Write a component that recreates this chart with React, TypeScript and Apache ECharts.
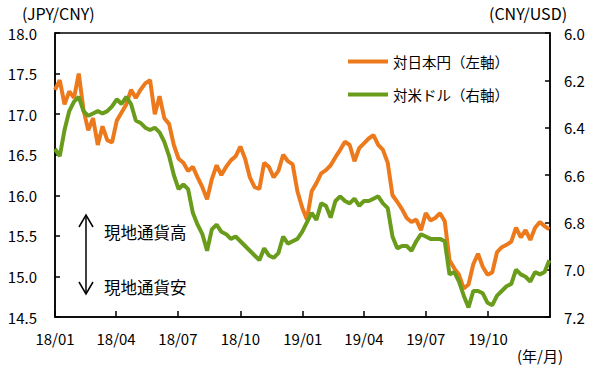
import React, { useEffect, useRef } from "react";
import * as echarts from "echarts";

// Weekly observations, 2018-01-01 .. 2019-12-30
const jpyPerCny: number[] = [
  17.30, 17.42, 17.12, 17.28, 17.20, 17.50, 17.05, 16.80, 16.95, 16.62,
  16.85, 16.68, 16.65, 16.92, 17.02, 17.12, 17.30, 17.20, 17.30, 17.38,
  17.42, 17.00, 17.22, 16.95, 16.88, 16.62, 16.45, 16.40, 16.30, 16.35,
  16.22, 16.10, 15.95, 16.20, 16.37, 16.25, 16.35, 16.43, 16.48, 16.60,
  16.45, 16.22, 16.10, 16.08, 16.40, 16.35, 16.22, 16.30, 16.50, 16.42,
  16.38, 16.05, 15.85, 15.70, 16.05, 16.15, 16.27, 16.31, 16.37, 16.47,
  16.56, 16.66, 16.62, 16.42, 16.58, 16.64, 16.70, 16.74, 16.62, 16.56,
  16.40, 16.00, 15.92, 15.83, 15.72, 15.67, 15.70, 15.57, 15.78, 15.69,
  15.72, 15.78, 15.68, 15.20, 15.10, 15.02, 14.85, 14.90, 15.15, 15.28,
  15.12, 15.02, 15.05, 15.30, 15.36, 15.39, 15.43, 15.60, 15.48, 15.57,
  15.45, 15.60, 15.67, 15.62, 15.58,
];

const cnyPerUsd: number[] = [
  6.49, 6.52, 6.41, 6.33, 6.29, 6.27, 6.33, 6.35, 6.34, 6.33,
  6.34, 6.33, 6.31, 6.28, 6.30, 6.27, 6.30, 6.37, 6.38, 6.40,
  6.41, 6.40, 6.42, 6.46, 6.52, 6.60, 6.66, 6.64, 6.66, 6.76,
  6.81, 6.85, 6.92, 6.83, 6.81, 6.84, 6.85, 6.87, 6.86, 6.88,
  6.90, 6.92, 6.94, 6.96, 6.91, 6.94, 6.95, 6.93, 6.86, 6.89,
  6.88, 6.87, 6.84, 6.80, 6.76, 6.79, 6.72, 6.73, 6.78, 6.71,
  6.69, 6.71, 6.72, 6.70, 6.73, 6.71, 6.71, 6.70, 6.69, 6.72,
  6.74, 6.86, 6.91, 6.90, 6.90, 6.92, 6.88, 6.85, 6.86, 6.87,
  6.87, 6.87, 6.88, 7.02, 7.01, 7.05, 7.11, 7.16, 7.09, 7.09,
  7.10, 7.14, 7.15, 7.11, 7.09, 7.07, 7.06, 7.00, 7.02, 7.03,
  7.05, 7.01, 7.02, 7.01, 6.96,
];

const seriesNames = ["対日本円（左軸）", "対米ドル（右軸）"];
const quarterStarts: [number, number][] = [
  [2018, 0], [2018, 3], [2018, 6], [2018, 9],
  [2019, 0], [2019, 3], [2019, 6], [2019, 9],
];
const leftTitle = "(JPY/CNY)";
const rightTitle = "(CNY/USD)";
const xUnit = "(年/月)";
const upLabel = "現地通貨高";
const downLabel = "現地通貨安";

const FONT = "'Noto Sans CJK JP', 'Noto Sans', sans-serif";
const ORANGE = "#EC7A1C";
const GREEN = "#6A9C1C";

export default function App() {
  const ref = useRef<HTMLDivElement>(null);

  useEffect(() => {
    document.body.style.margin = "0";
    if (!ref.current) return;
    const chart = echarts.init(ref.current, undefined, { renderer: "svg" });

    const weekTimes = jpyPerCny.map((_, i) => new Date(2018, 0, 1 + 7 * i).getTime());
    const tickTimes = quarterStarts.map(([y, m]) => new Date(y, m, 1).getTime());
    const pad = (n: number) => (n < 10 ? "0" + n : "" + n);

    const txt = (text: string, x: number, y: number, size: number) => ({
      type: "text", x, y,
      style: { text, x: 0, y: 0, fontSize: size, fill: "#000", fontFamily: FONT, align: "left", verticalAlign: "middle" },
    });

    chart.setOption({
      animation: false,
      textStyle: { fontFamily: FONT, color: "#000" },
      grid: {
        left: 55, right: 45, top: 33, bottom: 51,
        show: true, borderColor: "#000", borderWidth: 1.5,
      },
      legend: {
        orient: "vertical",
        left: 343, top: 47,
        icon: "rect",
        itemWidth: 40, itemHeight: 4, itemGap: 14,
        textStyle: { fontSize: 14.5, color: "#000", fontFamily: FONT, lineHeight: 19 },
        data: seriesNames,
      },
      xAxis: {
        type: "value",
        min: new Date(2018, 0, 1).getTime(),
        max: new Date(2019, 11, 31).getTime(),
        axisLine: { show: true, lineStyle: { color: "#000", width: 1.5 } },
        axisTick: {
          show: true, inside: true, length: 6,
          customValues: tickTimes,
          lineStyle: { color: "#000", width: 1.5 },
        },
        axisLabel: {
          customValues: tickTimes,
          fontSize: 15, color: "#000", margin: 14, fontFamily: FONT,
          formatter: (v: number) => {
            const d = new Date(v);
            return pad(d.getFullYear() % 100) + "/" + pad(d.getMonth() + 1);
          },
        },
        splitLine: { show: false },
      },
      yAxis: [
        {
          type: "value", min: 14.5, max: 18, interval: 0.5,
          axisLine: { show: true, lineStyle: { color: "#000", width: 1.5 } },
          axisTick: { show: true, inside: true, length: 5, lineStyle: { color: "#000", width: 1.5 } },
          axisLabel: { fontSize: 15, color: "#000", margin: 18, fontFamily: FONT, formatter: (v: number) => v.toFixed(1) },
          splitLine: { show: false },
        },
        {
          type: "value", min: 6.0, max: 7.2, interval: 0.2, inverse: true,
          axisLine: { show: true, lineStyle: { color: "#000", width: 1.5 } },
          axisTick: { show: true, inside: true, length: 5, lineStyle: { color: "#000", width: 1.5 } },
          axisLabel: { fontSize: 15, color: "#000", margin: 14, fontFamily: FONT, formatter: (v: number) => v.toFixed(1) },
          splitLine: { show: false },
        },
      ],
      series: [
        {
          name: seriesNames[0], type: "line", yAxisIndex: 0,
          data: weekTimes.map((t, i) => [t, jpyPerCny[i]]),
          showSymbol: false, symbol: "none",
          lineStyle: { color: ORANGE, width: 4 }, itemStyle: { color: ORANGE },
        },
        {
          name: seriesNames[1], type: "line", yAxisIndex: 1,
          data: weekTimes.map((t, i) => [t, cnyPerUsd[i]]),
          showSymbol: false, symbol: "none",
          lineStyle: { color: GREEN, width: 4 }, itemStyle: { color: GREEN },
        },
      ],
      graphic: [
        txt(leftTitle, 22, 13, 16),
        txt(rightTitle, 489, 13, 16),
        txt(xUnit, 517, 355, 15),
        { type: "line", shape: { x1: 86, y1: 216, x2: 86, y2: 293 }, style: { stroke: "#000", lineWidth: 1.5 } },
        { type: "polyline", shape: { points: [[79, 227], [86, 215], [93, 227]] }, style: { stroke: "#000", lineWidth: 1.5, fill: "none" } },
        { type: "polyline", shape: { points: [[79, 282], [86, 294], [93, 282]] }, style: { stroke: "#000", lineWidth: 1.5, fill: "none" } },
        txt(upLabel, 104, 232, 16.5),
        txt(downLabel, 104, 287, 16.5),
      ],
    });

    return () => chart.dispose();
  }, []);

  return <div ref={ref} style={{ width: 595, height: 368 }} />;
}
